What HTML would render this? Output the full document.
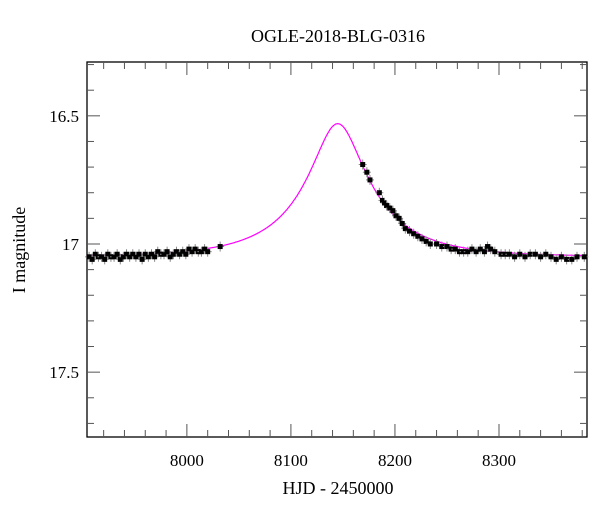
<!DOCTYPE html>
<html><head><meta charset="utf-8"><style>
body{margin:0;background:#fff;}
svg text{font-family:"Liberation Serif",serif;fill:#000;}
</style></head><body>
<svg id="c" width="600" height="512" xmlns="http://www.w3.org/2000/svg"></svg>
<script>
const obsTimes=[7906,7909,7912,7915,7918,7921,7924,7927,7930,7933,7936,7939,7942,7945,7948,7951,7954,7957,7960,7963,7966,7969,7972,7975,7978,7981,7984,7987,7990,7993,7996,7999,8002,8005,8008,8011,8014,8017,8020,8032,
8169,8173,8176,8185,8188,8190,8192,8195,8198,8201,8204,8207,8210,8214,8218,8222,8226,8230,8234,8240,8245,8250,8254,8258,8262,8266,8270,8274,8278,8282,8286,8289,8292,8296,8302,8306,8310,8315,8320,8325,8330,8335,8340,8345,8350,8355,8360,8365,8370,8375,8382];
const obsMags=[17.05,17.06,17.04,17.05,17.05,17.06,17.04,17.05,17.05,17.04,17.06,17.05,17.04,17.05,17.04,17.05,17.04,17.06,17.04,17.05,17.04,17.05,17.03,17.04,17.04,17.03,17.05,17.04,17.03,17.04,17.03,17.04,17.02,17.03,17.02,17.03,17.03,17.02,17.03,17.01,
16.69,16.72,16.75,16.80,16.83,16.84,16.85,16.86,16.87,16.89,16.90,16.92,16.94,16.95,16.96,16.97,16.98,16.99,17.00,17.00,17.01,17.01,17.02,17.02,17.03,17.03,17.03,17.02,17.03,17.02,17.03,17.01,17.02,17.03,17.04,17.04,17.04,17.05,17.04,17.05,17.04,17.04,17.05,17.04,17.05,17.06,17.05,17.06,17.06,17.05,17.05];
const modelParams=[8145,0.3,82,17.05,0.251]; // t0, u0, tE, baseline, source fraction
const xTicks=[8000,8100,8200,8300];
const yTicks=[16.5,17,17.5];
const L=87,R=587,T=62,B=437,X0=7904,X1=8384.6,Y0=16.29,Y1=17.753;
const sx=v=>L+(v-X0)/(X1-X0)*(R-L);
const sy=v=>T+(v-Y0)/(Y1-Y0)*(B-T);
const svg=document.getElementById('c');
const NS='http://www.w3.org/2000/svg';
function mk(tag,a,parent){const e=document.createElementNS(NS,tag);for(const k in a)e.setAttribute(k,a[k]);(parent||svg).appendChild(e);return e;}
const frame=mk('rect',{x:L,y:T,width:R-L,height:B-T,fill:'none',stroke:'#000','stroke-width':1.3});


for(let v=7920;v<=8380;v+=20){const big=v%100===0;const len=big?13:7;const x=sx(v);
 mk('line',{x1:x,x2:x,y1:B,y2:B-len,stroke:'#555'});mk('line',{x1:x,x2:x,y1:T,y2:T+len,stroke:'#555'});}
xTicks.forEach(v=>{const t=mk('text',{x:sx(v),y:B+29,'text-anchor':'middle','font-size':17});t.textContent=v;
 
 });
for(let i=3;i<=17;i++){const v=i/10+16;const big=i%5===0;const len=big?13:7;const y=sy(v);if(y<T||y>B)continue;
 mk('line',{x1:L,x2:L+len,y1:y,y2:y,stroke:'#555'});mk('line',{x1:R,x2:R-len,y1:y,y2:y,stroke:'#555'});}
yTicks.forEach(v=>{const t=mk('text',{x:L-8,y:sy(v)+6,'text-anchor':'end','font-size':17});t.textContent=v;
 
 });
const [t0,u0,tE,base,fs]=modelParams;let d='';
for(let t=X0;t<=X1;t+=1){const tau=(t-t0)/tE;const u=Math.sqrt(u0*u0+tau*tau);const A=(u*u+2)/(u*Math.sqrt(u*u+4));const m=base-2.5*Math.log10(fs*A+1-fs);d+=(d?'L':'M')+sx(t).toFixed(1)+','+sy(m).toFixed(1);}
const model=mk('path',{d:d,fill:'none',stroke:'#ff00ff','stroke-width':1.2});


const g=mk('g',{});


obsTimes.forEach((t,i)=>{const x=sx(t),y=sy(obsMags[i]);
 mk('line',{x1:x,x2:x,y1:y-5,y2:y+5,stroke:'#888'},g);mk('line',{x1:x-4,x2:x+4,y1:y,y2:y,stroke:'#888'},g);
 const p=mk('rect',{x:x-2.5,y:y-2.5,width:5,height:5,fill:'#000'},g);
 
 });
const ti=mk('text',{x:338,y:42,'text-anchor':'middle','font-size':18});ti.textContent='OGLE-2018-BLG-0316';


const xl=mk('text',{x:338,y:494,'text-anchor':'middle','font-size':18});xl.textContent='HJD - 2450000';


const yl=mk('text',{x:25,y:250,'text-anchor':'middle','font-size':18,transform:'rotate(-90 25 250)'});yl.textContent='I magnitude';


</script>
</body></html>
